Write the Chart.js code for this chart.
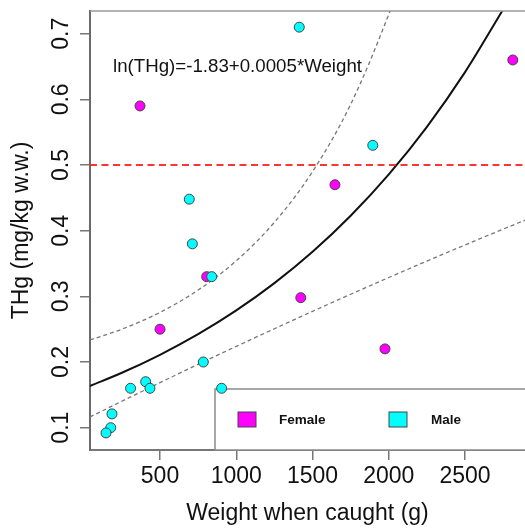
<!DOCTYPE html>
<html><head><meta charset="utf-8">
<script src="https://cdn.jsdelivr.net/npm/chart.js@4.4.1/dist/chart.umd.min.js"></script>
<style>html,body{margin:0;padding:0;background:#fff;overflow:hidden}canvas{display:block}</style>
</head><body>
<canvas id="c" width="525" height="530"></canvas>
<script>
// ---- data ----
const seriesNames = ['Female', 'Male'];
const femaleWeight = [369, 500, 806, 1423, 1647, 1975, 2813];
const femaleTHg    = [0.59, 0.25, 0.33, 0.298, 0.47, 0.22, 0.66];
const maleWeight = [1413, 1895, 692, 712, 839, 784, 904, 307, 406, 434, 185, 177, 146];
const maleTHg    = [0.71, 0.53, 0.448, 0.38, 0.33, 0.20, 0.16, 0.16, 0.17, 0.16, 0.121, 0.10, 0.092];
const fitWeight = [41, 250, 500, 750, 1000, 1250, 1500, 1750, 2000, 2250, 2500, 2750];
const fitTHg    = [0.1635, 0.1836, 0.2110, 0.2424, 0.2786, 0.3201, 0.3679, 0.4228, 0.4858, 0.5582, 0.6415, 0.7371];
const upperWeight = [41, 250, 500, 750, 1000, 1250, 1500, 1750, 2000, 2050];
const upperTHg    = [0.2336, 0.2500, 0.2756, 0.3096, 0.3542, 0.4128, 0.4900, 0.5925, 0.7298, 0.7626];
const lowerWeight = [41, 250, 500, 750, 1000, 1250, 1500, 1750, 2000, 2250, 2500, 2750, 2893];
const lowerTHg    = [0.1163, 0.1403, 0.1686, 0.1965, 0.2238, 0.2507, 0.2772, 0.3032, 0.3287, 0.3537, 0.3783, 0.4024, 0.4160];
const limitTHg = [0.5];
const xRange = [41, 2893];
const yRange = [0.066, 0.7346];
const xTicks = [500, 1000, 1500, 2000, 2500];
const xTickLabels = ['500', '1000', '1500', '2000', '2500'];
const yTicks = [0.1, 0.2, 0.3, 0.4, 0.5, 0.6, 0.7];
const yTickLabels = ['0.1', '0.2', '0.3', '0.4', '0.5', '0.6', '0.7'];
const xTitle = 'Weight when caught (g)';
const yTitle = 'THg (mg/kg w.w.)';
const equationText = 'ln(THg)=-1.83+0.0005*Weight';
const equationPos = [1008, 0.65];

const FONT = '"Liberation Sans", Arial, Helvetica, sans-serif';
const seriesColors = ['#ff00ff', '#00ffff'];
const zip = (xs, ys) => xs.map((x, i) => ({x: x, y: ys[i]}));

const framePlugin = {
  id: 'frame',
  beforeDatasetsDraw(chart) {
    const {ctx, chartArea: a} = chart;
    ctx.save();
    const lx = a.left + 125, ly = a.bottom - 61;
    ctx.fillStyle = '#fff';
    ctx.fillRect(lx, ly, a.right - lx + 20, a.bottom - ly);
    ctx.strokeStyle = '#8a8a8a';
    ctx.lineWidth = 1.5;
    ctx.strokeRect(lx, ly, a.right - lx + 20, a.bottom - ly);
    const entries = [{sx: lx + 23, tx: lx + 64}, {sx: lx + 174, tx: lx + 216}];
    ctx.font = 'bold 13.5px ' + FONT;
    ctx.textBaseline = 'middle';
    ctx.textAlign = 'left';
    entries.forEach((e, i) => {
      ctx.fillStyle = seriesColors[i];
      ctx.fillRect(e.sx, ly + 23, 18, 15);
      ctx.strokeStyle = '#444';
      ctx.lineWidth = 1;
      ctx.strokeRect(e.sx, ly + 23, 18, 15);
      ctx.fillStyle = '#111';
      ctx.fillText(seriesNames[i], e.tx, ly + 31);
    });
    ctx.restore();
  },
  afterDraw(chart) {
    const {ctx, chartArea: a, scales} = chart;
    ctx.save();
    ctx.strokeStyle = '#999';
    ctx.lineWidth = 1.5;
    ctx.beginPath();
    ctx.moveTo(a.left, a.top);
    ctx.lineTo(a.right, a.top);
    ctx.stroke();
    ctx.fillStyle = '#111';
    ctx.font = '23px ' + FONT;
    ctx.textAlign = 'center';
    ctx.textBaseline = 'alphabetic';
    yTicks.forEach((v, i) => {
      const py = scales.y.getPixelForValue(v);
      ctx.save();
      ctx.translate(a.left - 22, py);
      ctx.rotate(-Math.PI / 2);
      ctx.fillText(yTickLabels[i], 0, 0);
      ctx.restore();
    });
    ctx.font = '18.7px ' + FONT;
    ctx.textBaseline = 'middle';
    ctx.fillText(equationText, scales.x.getPixelForValue(equationPos[0]), scales.y.getPixelForValue(equationPos[1]));
    ctx.restore();
  }
};

new Chart(document.getElementById('c'), {
  type: 'scatter',
  data: {
    datasets: [
      {label: seriesNames[1], data: zip(maleWeight, maleTHg), order: 0,
       backgroundColor: seriesColors[1], borderColor: '#444', borderWidth: 1, pointRadius: 5, pointHoverRadius: 5},
      {label: seriesNames[0], data: zip(femaleWeight, femaleTHg), order: 1,
       backgroundColor: seriesColors[0], borderColor: '#444', borderWidth: 1, pointRadius: 5, pointHoverRadius: 5},
      {label: 'limit', data: [{x: xRange[0], y: limitTHg[0]}, {x: xRange[1], y: limitTHg[0]}], order: 2,
       showLine: true, pointRadius: 0, borderColor: 'rgba(255,30,30,0.9)', borderWidth: 2, borderDash: [7, 4.5]},
      {label: 'fit', data: zip(fitWeight, fitTHg), order: 3, showLine: true, pointRadius: 0,
       borderColor: '#111', borderWidth: 2, cubicInterpolationMode: 'monotone'},
      {label: 'upper', data: zip(upperWeight, upperTHg), order: 4, showLine: true, pointRadius: 0,
       borderColor: '#777', borderWidth: 1.3, borderDash: [4, 3], cubicInterpolationMode: 'monotone'},
      {label: 'lower', data: zip(lowerWeight, lowerTHg), order: 5, showLine: true, pointRadius: 0,
       borderColor: '#777', borderWidth: 1.3, borderDash: [4, 3], cubicInterpolationMode: 'monotone'}
    ]
  },
  options: {
    responsive: false,
    animation: false,
    devicePixelRatio: 1,
    layout: {autoPadding: false, padding: {top: 11, left: 0, right: 0, bottom: 0}},
    plugins: {legend: {display: false}, tooltip: {enabled: false}},
    scales: {
      x: {
        type: 'linear', min: xRange[0], max: xRange[1],
        afterBuildTicks: s => { s.ticks = xTicks.map(v => ({value: v})); },
        afterFit: s => { s.height = 80; },
        ticks: {color: '#111', font: {family: FONT, size: 23}, padding: 3,
                callback: v => xTickLabels[xTicks.indexOf(v)], maxRotation: 0, autoSkip: false},
        grid: {drawOnChartArea: false, drawTicks: true, tickLength: 10, color: '#777', lineWidth: 1.5},
        border: {display: true, color: '#777', width: 2},
        title: {display: true, text: xTitle, color: '#111', font: {family: FONT, size: 23}, padding: {top: 0, bottom: 3}}
      },
      y: {
        type: 'linear', min: yRange[0], max: yRange[1],
        afterBuildTicks: s => { s.ticks = yTicks.map(v => ({value: v})); },
        afterFit: s => { s.width = 90; },
        ticks: {display: false},
        grid: {drawOnChartArea: false, drawTicks: true, tickLength: 10, color: '#777', lineWidth: 1.5},
        border: {display: true, color: '#6a6a6a', width: 2},
        title: {display: true, text: yTitle, color: '#111', font: {family: FONT, size: 23}, padding: {top: 7.5, bottom: 0}}
      }
    }
  },
  plugins: [framePlugin]
});
</script>
</body></html>
